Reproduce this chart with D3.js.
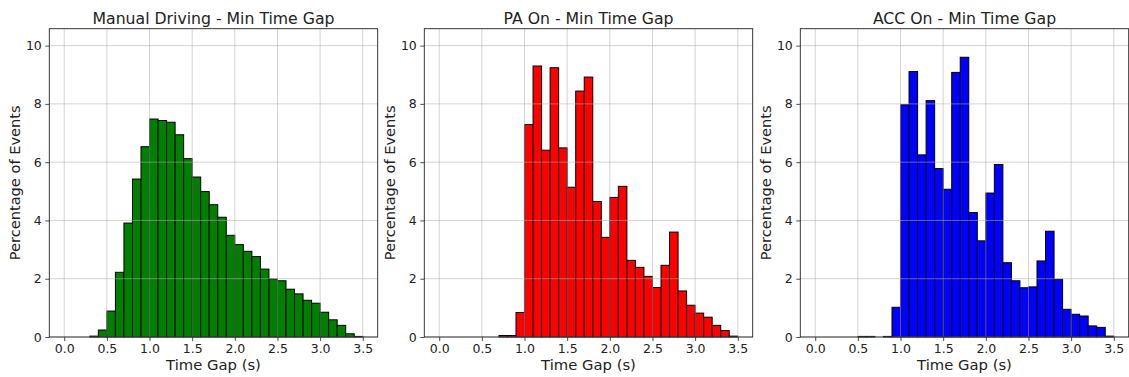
<!DOCTYPE html>
<html>
<head>
<meta charset="utf-8">
<script src="https://cdn.jsdelivr.net/npm/d3@7"></script>
<style>
  body { margin: 0; background: #fff; }
  text { font-family: "DejaVu Sans", sans-serif; fill: #222; }
</style>
</head>
<body>
<script>
// Histogram bins (left edges, width 0.1 s)
var binStarts = [0.0, 0.1, 0.2, 0.3, 0.4, 0.5, 0.6, 0.7, 0.8, 0.9,
                 1.0, 1.1, 1.2, 1.3, 1.4, 1.5, 1.6, 1.7, 1.8, 1.9,
                 2.0, 2.1, 2.2, 2.3, 2.4, 2.5, 2.6, 2.7, 2.8, 2.9,
                 3.0, 3.1, 3.2, 3.3, 3.4];
var binWidth = 0.1;

// Percentage of events per bin
var manualValues = [0, 0, 0, 0.03, 0.24, 0.89, 2.22, 3.91, 5.42, 6.53,
                    7.48, 7.43, 7.37, 6.94, 6.12, 5.49, 4.99, 4.54, 4.11, 3.49,
                    3.17, 2.94, 2.76, 2.33, 1.99, 1.93, 1.64, 1.48, 1.26, 1.16,
                    0.85, 0.59, 0.40, 0.11, 0.02];
var paValues = [0, 0, 0, 0, 0, 0, 0, 0.05, 0.05, 0.84,
                7.29, 9.30, 6.41, 9.24, 6.49, 5.14, 8.44, 8.92, 4.65, 3.42,
                4.79, 5.17, 2.63, 2.39, 2.08, 1.70, 2.46, 3.60, 1.58, 1.09,
                0.82, 0.68, 0.40, 0.22, 0.03];
var accValues = [0, 0, 0, 0, 0, 0.02, 0.02, 0, 0.02, 1.02,
                 7.97, 9.11, 6.25, 8.11, 5.78, 5.07, 9.08, 9.60, 4.27, 3.30,
                 4.94, 5.92, 2.55, 1.93, 1.69, 1.72, 2.61, 3.63, 1.98, 0.95,
                 0.78, 0.72, 0.38, 0.33, 0.03];

var titles = ["Manual Driving - Min Time Gap", "PA On - Min Time Gap", "ACC On - Min Time Gap"];
var colors = ["#008000", "#ff0000", "#0000ff"];
var seriesList = [manualValues, paValues, accValues];

var xTicks = [0.0, 0.5, 1.0, 1.5, 2.0, 2.5, 3.0, 3.5];
var yTicks = [0, 2, 4, 6, 8, 10];

// Layout
var svgWidth = 1129, svgHeight = 377;
var panelLefts = [49.3, 424.3, 800.3];
var panelWidth = 328.4;
var plotTop = 28.7, plotBottom = 337;
var h = plotBottom - plotTop;

var svg = d3.select("body").append("svg")
            .attr("width", svgWidth)
            .attr("height", svgHeight);

var x = d3.scaleLinear().domain([-0.175, 3.675]).range([0, panelWidth]);
var y = d3.scaleLinear().domain([0, 10.58]).range([h, 0]);

seriesList.forEach(function(values, i) {
    var g = svg.append("g")
               .attr("transform", `translate(${panelLefts[i]}, ${plotTop})`);

    // bars
    g.selectAll("rect.bar")
     .data(binStarts.map((b, k) => ({ x0: b, v: values[k] })).filter(d => d.v > 0))
     .enter()
     .append("rect")
     .attr("class", "bar")
     .attr("x", d => x(d.x0))
     .attr("y", d => y(d.v))
     .attr("width", d => x(d.x0 + binWidth) - x(d.x0))
     .attr("height", d => y(0) - y(d.v))
     .attr("fill", colors[i])
     .attr("stroke", "#000")
     .attr("stroke-width", 1);

    // grid (drawn on top like the original)
    g.selectAll("line.vg").data(xTicks).enter().append("line")
     .attr("class", "vg")
     .attr("x1", d => x(d)).attr("x2", d => x(d))
     .attr("y1", 0).attr("y2", h)
     .attr("stroke", "#b0b0b0").attr("stroke-opacity", 0.7).attr("stroke-width", 0.8);
    g.selectAll("line.hg").data(yTicks).enter().append("line")
     .attr("class", "hg")
     .attr("x1", 0).attr("x2", panelWidth)
     .attr("y1", d => y(d)).attr("y2", d => y(d))
     .attr("stroke", "#b0b0b0").attr("stroke-opacity", 0.7).attr("stroke-width", 0.8);

    // axes
    var xAxis = d3.axisBottom(x).tickValues(xTicks).tickFormat(d3.format(".1f"))
                  .tickSize(4).tickPadding(3);
    var yAxis = d3.axisLeft(y).tickValues(yTicks).tickFormat(d3.format("d"))
                  .tickSize(4).tickPadding(3.5);

    var gx = g.append("g").attr("transform", `translate(0, ${h})`).call(xAxis);
    var gy = g.append("g").call(yAxis);
    [gx, gy].forEach(function(a) {
        a.select(".domain").remove();
        a.selectAll(".tick line").attr("stroke", "#222").attr("stroke-width", 0.8);
        a.selectAll(".tick text").style("font-size", "12.5px").style("font-family", "DejaVu Sans").attr("fill", "#222");
    });

    // frame
    g.append("rect")
     .attr("width", panelWidth).attr("height", h)
     .attr("fill", "none").attr("stroke", "#222").attr("stroke-width", 0.9);

    // title and labels
    g.append("text")
     .attr("x", panelWidth / 2).attr("y", -4.7)
     .attr("text-anchor", "middle")
     .style("font-size", "15.7px")
     .text(titles[i]);

    g.append("text")
     .attr("x", panelWidth / 2).attr("y", h + 33)
     .attr("text-anchor", "middle")
     .style("font-size", "14.8px")
     .text("Time Gap (s)");

    g.append("text")
     .attr("transform", "rotate(-90)")
     .attr("x", -h / 2).attr("y", -29)
     .attr("text-anchor", "middle")
     .style("font-size", "14.6px")
     .text("Percentage of Events");
});
</script>
</body>
</html>
